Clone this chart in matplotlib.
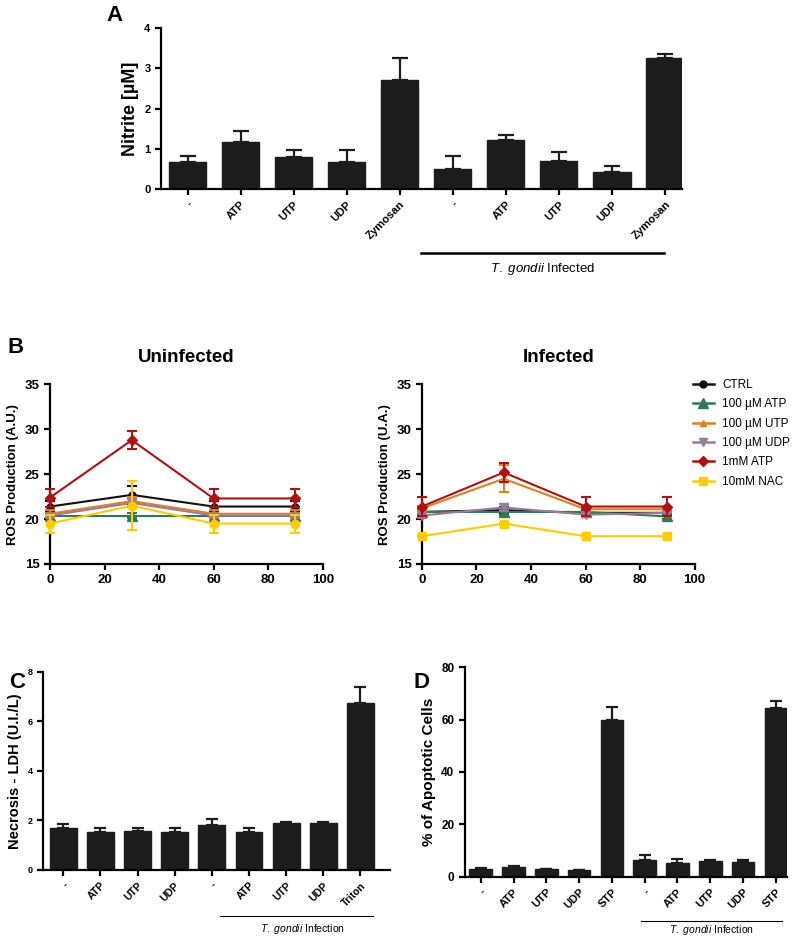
import numpy as np
import matplotlib
matplotlib.use('Agg')
import matplotlib.pyplot as plt
from matplotlib.lines import Line2D

plt.rcParams['font.family'] = ['Liberation Sans', 'DejaVu Sans']
plt.rcParams['font.weight'] = 'bold'
plt.rcParams['axes.linewidth'] = 1.6
plt.rcParams['mathtext.fontset'] = 'custom'
plt.rcParams['mathtext.it'] = 'Liberation Sans:style=italic:weight=normal'
plt.rcParams['mathtext.rm'] = 'Liberation Sans:weight=normal'

# ---- panel A : nitrite
a_labels = ['-', 'ATP', 'UTP', 'UDP', 'Zymosan', '-', 'ATP', 'UTP', 'UDP', 'Zymosan']
nitrite = [0.67, 1.16, 0.79, 0.66, 2.72, 0.50, 1.21, 0.70, 0.42, 3.26]
nitrite_err = [0.14, 0.27, 0.18, 0.31, 0.54, 0.32, 0.12, 0.21, 0.14, 0.11]

# ---- panel B : ROS time course
times = [0, 30, 60, 90]
ros_names = ['CTRL', '100 \u00b5M ATP', '100 \u00b5M UTP', '100 \u00b5M UDP', '1mM ATP', '10mM NAC']
ros_colors = ['#111111', '#2f7a52', '#e0801e', '#9c7a9c', '#b30f0f', '#ffcc00']
ros_uninf = [
    [21.4, 22.7, 21.4, 21.4],
    [20.4, 20.4, 20.4, 20.4],
    [20.6, 22.0, 20.6, 20.6],
    [20.4, 21.8, 20.4, 20.4],
    [22.4, 28.8, 22.3, 22.3],
    [19.5, 21.5, 19.5, 19.5],
]
ros_uninf_err = [
    [0.6, 1.0, 0.6, 0.6],
    [0.3, 0.3, 0.3, 0.3],
    [0.4, 0.5, 0.4, 0.4],
    [0.3, 0.4, 0.3, 0.3],
    [1.0, 1.0, 1.0, 1.0],
    [1.0, 2.7, 1.0, 1.0],
]
ros_inf = [
    [20.8, 21.0, 20.7, 20.7],
    [20.8, 20.8, 20.8, 20.3],
    [21.2, 24.5, 21.1, 21.1],
    [20.4, 21.3, 20.5, 20.7],
    [21.4, 25.2, 21.4, 21.4],
    [18.1, 19.5, 18.1, 18.1],
]
ros_inf_err = [
    [0.3, 0.3, 0.3, 0.3],
    [0.3, 0.3, 0.3, 0.3],
    [0.3, 1.5, 0.3, 0.3],
    [0.3, 0.4, 0.3, 0.3],
    [1.1, 1.1, 1.1, 1.1],
    [0.1, 0.1, 0.1, 0.1],
]
markers_uninf = ['o', '^', '^', 'v', 'D', 'o']
markers_inf = ['o', '^', '^', 'v', 'D', 's']
marker_sizes = [5, 7, 5, 6, 5, 6]

# ---- panel C : LDH
c_labels = ['-', 'ATP', 'UTP', 'UDP', '-', 'ATP', 'UTP', 'UDP', 'Triton']
ldh = [1.70, 1.54, 1.56, 1.54, 1.82, 1.54, 1.88, 1.88, 6.73]
ldh_err = [0.15, 0.15, 0.13, 0.15, 0.22, 0.15, 0.05, 0.05, 0.67]

# ---- panel D : apoptosis
d_labels = ['-', 'ATP', 'UTP', 'UDP', 'STP', '-', 'ATP', 'UTP', 'UDP', 'STP']
apopt = [3.1, 3.9, 2.9, 2.4, 60.0, 6.3, 5.1, 6.0, 5.7, 64.4]
apopt_err = [0.3, 0.3, 0.2, 0.2, 4.7, 1.9, 1.6, 0.3, 0.8, 2.7]

BAR = '#1c1c1c'


def style(ax):
    ax.spines['top'].set_visible(False)
    ax.spines['right'].set_visible(False)
    ax.tick_params(width=1.6, length=4, direction='out')


def bars(ax, labels, vals, errs, width, fs, cap):
    x = np.arange(len(vals))
    ax.bar(x, vals, width=width, color=BAR, edgecolor=BAR)
    ax.errorbar(x, vals, yerr=[np.zeros(len(errs)), errs], fmt='none',
                ecolor=BAR, elinewidth=1.6, capsize=cap, capthick=1.6)
    ax.set_xticks(x)
    ax.set_xticklabels(labels, rotation=45, ha='right', rotation_mode='anchor',
                       fontsize=fs, fontweight='bold')
    style(ax)
    return x


fig = plt.figure(figsize=(7.93, 9.40), dpi=100)

# A
axA = fig.add_axes([0.203, 0.799, 0.657, 0.171])
bars(axA, a_labels, nitrite, nitrite_err, 0.7, 8, 6)
axA.set_xlim(-0.5, 9.32)
axA.set_ylim(0, 4)
axA.set_yticks([0, 1, 2, 3, 4])
axA.tick_params(axis='y', labelsize=8)
axA.set_ylabel('Nitrite [\u00b5M]', fontsize=13, fontweight='bold')
trA = axA.get_xaxis_transform()
axA.plot([4.4, 8.98], [-0.40, -0.40], color='black', lw=1.8, transform=trA, clip_on=False)
axA.text(6.69, -0.50, r'$\it{T.\ gondii}$ Infected', transform=trA, ha='center', va='center',
         fontsize=9.5, fontweight='normal')
fig.text(0.145, 0.983, 'A', fontsize=16, fontweight='bold', ha='center', va='center')

# B
for k, (left, data, errs, mk, title, ylab) in enumerate([
        (0.063, ros_uninf, ros_uninf_err, markers_uninf, 'Uninfected', 'ROS Production (A.U.)'),
        (0.532, ros_inf, ros_inf_err, markers_inf, 'Infected', 'ROS Production (U.A.)')]):
    ax = fig.add_axes([left, 0.400, 0.344, 0.191])
    for i in range(len(ros_names)):
        ax.errorbar(times, data[i], yerr=errs[i], color=ros_colors[i], marker=mk[i],
                    ms=marker_sizes[i], lw=1.5, elinewidth=1.5, capsize=3.5, capthick=1.5,
                    clip_on=False, zorder=3 + i * 0.1)
    ax.set_xlim(0, 100)
    ax.set_ylim(15, 35)
    ax.set_xticks([0, 20, 40, 60, 80, 100])
    ax.set_yticks([15, 20, 25, 30, 35])
    ax.tick_params(labelsize=9.5)
    style(ax)
    ax.set_ylabel(ylab, fontsize=9.5, fontweight='bold')
    ax.set_title(title, fontsize=13.5, fontweight='bold', pad=16)
    if k == 1:
        handles = [Line2D([], [], color=ros_colors[i], marker=mk[i], ms=marker_sizes[i], lw=1.8)
                   for i in range(len(ros_names))]
        fig.legend(handles, ros_names, loc='upper left', bbox_to_anchor=(0.866, 0.603),
                   frameon=False, handlelength=1.8, handletextpad=0.7, labelspacing=0.62,
                   borderpad=0, prop={'size': 8.5, 'weight': 'normal'})
fig.text(0.020, 0.630, 'B', fontsize=16, fontweight='bold', ha='center', va='center')

# C
axC = fig.add_axes([0.054, 0.0745, 0.438, 0.211])
bars(axC, c_labels, ldh, ldh_err, 0.72, 7.5, 4.5)
axC.set_xlim(-0.55, 8.8)
axC.set_ylim(0, 8)
axC.set_yticks([0, 2, 4, 6, 8])
axC.tick_params(axis='y', labelsize=6.5)
axC.set_ylabel('Necrosis - LDH (U.I./L)', fontsize=10.5, fontweight='bold')
trC = axC.get_xaxis_transform()
axC.plot([4.22, 8.35], [-0.232, -0.232], color='black', lw=0.8, transform=trC, clip_on=False)
axC.text(6.43, -0.30, r'$\it{T.\ gondii}$ Infection', transform=trC, ha='center', va='center',
         fontsize=7.5, fontweight='normal')
fig.text(0.022, 0.274, 'C', fontsize=16, fontweight='bold', ha='center', va='center')

# D
axD = fig.add_axes([0.586, 0.0673, 0.406, 0.223])
bars(axD, d_labels, apopt, apopt_err, 0.69, 8, 4.5)
axD.set_xlim(-0.49, 9.33)
axD.set_ylim(0, 80)
axD.set_yticks([0, 20, 40, 60, 80])
axD.tick_params(axis='y', labelsize=8.5)
axD.set_ylabel('% of Apoptotic Cells', fontsize=11, fontweight='bold')
trD = axD.get_xaxis_transform()
axD.plot([4.9, 9.18], [-0.21, -0.21], color='black', lw=0.8, transform=trD, clip_on=False)
axD.text(7.04, -0.255, r'$\it{T.\ gondii}$ Infection', transform=trD, ha='center', va='center',
         fontsize=7.5, fontweight='normal')
fig.text(0.531, 0.274, 'D', fontsize=16, fontweight='bold', ha='center', va='center')

fig.savefig('out.png', dpi=100)
